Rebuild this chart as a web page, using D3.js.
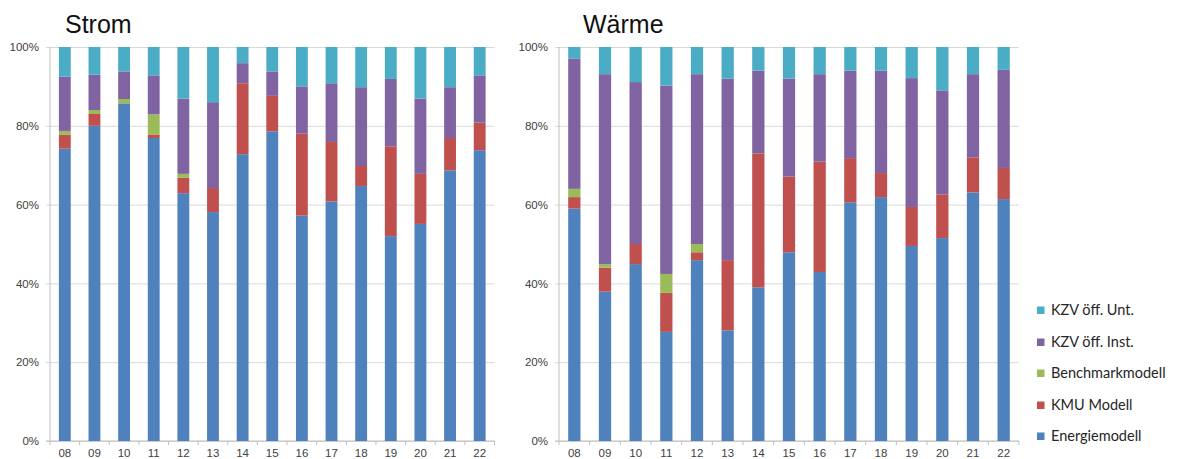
<!DOCTYPE html>
<html>
<head>
<meta charset="utf-8">
<script src="https://cdn.jsdelivr.net/npm/d3@7"></script>
<style>
  html, body { margin: 0; padding: 0; background: #fff; }
  svg { display: block; }
</style>
</head>
<body>
<svg id="chart" width="1177" height="459"></svg>
<script>
// Years (two-digit labels)
const years = ["08","09","10","11","12","13","14","15","16","17","18","19","20","21","22"];

// Series names, stacked bottom to top
const seriesNames = ["Energiemodell", "KMU Modell", "Benchmarkmodell", "KZV öff. Inst.", "KZV öff. Unt."];
const seriesColors = ["#4F81BD", "#C0504D", "#9BBB59", "#8064A2", "#4BACC6"];

// Strom: share per model in percent
const stromEnergie  = [74.2, 80.0, 85.7, 76.9, 62.9, 58.1, 72.8, 78.6, 57.2, 60.8, 64.7, 52.0, 55.1, 68.7, 73.8];
const stromKMU      = [ 3.5,  3.0,  0.0,  0.9,  3.9,  6.1, 18.0,  9.0, 20.8, 15.1,  5.1, 22.8, 12.7,  8.2,  7.0];
const stromBench    = [ 1.0,  1.0,  1.1,  5.1,  1.0,  0.0,  0.0,  0.0,  0.0,  0.0,  0.0,  0.0,  0.0,  0.0,  0.0];
const stromInst     = [13.8,  9.0,  7.0,  9.9, 19.1, 21.8,  5.1,  6.2, 12.0, 14.9, 20.0, 17.1, 19.1, 12.9, 12.0];
const stromUnt      = [ 7.5,  7.0,  6.2,  7.2, 13.1, 14.0,  4.1,  6.2, 10.0,  9.2, 10.2,  8.1, 13.1, 10.2,  7.2];

// Wärme: share per model in percent
const waermeEnergie = [59.0, 37.9, 44.9, 27.7, 45.9, 28.1, 39.0, 47.9, 42.9, 60.6, 61.9, 49.5, 51.5, 63.1, 61.4];
const waermeKMU     = [ 2.9,  6.1,  5.1,  9.9,  2.0, 17.8, 34.0, 19.2, 28.0, 11.2,  6.1,  9.9, 11.1,  8.9,  7.9];
const waermeBench   = [ 2.1,  0.9,  0.0,  4.8,  2.1,  0.0,  0.0,  0.0,  0.0,  0.0,  0.0,  0.0,  0.0,  0.0,  0.0];
const waermeInst    = [33.1, 48.2, 41.1, 47.8, 43.1, 46.1, 21.0, 24.9, 22.2, 22.2, 26.0, 32.7, 26.4, 21.1, 24.9];
const waermeUnt     = [ 2.9,  6.9,  8.9,  9.8,  6.9,  8.0,  6.0,  8.0,  6.9,  6.0,  6.0,  7.9, 11.0,  6.9,  5.8];

const yTicks = [0, 20, 40, 60, 80, 100];

const svg = d3.select("#chart");

function buildRows(cols) {
  return years.map((yr, i) => {
    const row = { year: yr };
    seriesNames.forEach((name, k) => { row[name] = cols[k][i]; });
    return row;
  });
}

function drawPanel(opts) {
  const { title, titleX, x0, x1, cols } = opts;
  const yTop = 47, yBottom = 441;
  const rows = buildRows(cols);
  const stack = d3.stack().keys(seriesNames);
  const layers = stack(rows);

  const x = d3.scaleBand().domain(years).range([x0, x1]).paddingInner(0.6).paddingOuter(0.3);
  const y = d3.scaleLinear().domain([0, 100]).range([yBottom, yTop]);
  const catStep = (x1 - x0) / years.length;

  const g = svg.append("g");

  // title
  g.append("text")
    .attr("x", titleX).attr("y", 33)
    .attr("font-family", "Liberation Sans, Arial, sans-serif")
    .attr("font-size", 25)
    .attr("fill", "#111")
    .text(title);

  // gridlines and y ticks
  const yAxis = d3.axisLeft(y).tickValues(yTicks).tickFormat(d => d + "%")
    .tickSize(-(x1 - x0)).tickSizeOuter(0).tickPadding(11);
  const ya = g.append("g").attr("transform", `translate(${x0},0)`).call(yAxis);
  ya.select(".domain").remove();
  ya.selectAll(".tick line").attr("stroke", "#d9d9d9").attr("x1", -4);
  ya.selectAll(".tick text")
    .attr("font-family", "Liberation Sans, Arial, sans-serif")
    .attr("font-size", 11.5).attr("fill", "#404040");

  // vertical axis line
  g.append("line").attr("x1", x0).attr("x2", x0).attr("y1", yTop).attr("y2", yBottom)
    .attr("stroke", "#bfbfbf");
  // baseline
  g.append("line").attr("x1", x0 - 4).attr("x2", x1).attr("y1", yBottom).attr("y2", yBottom)
    .attr("stroke", "#bfbfbf");

  // x tick marks between categories
  const edges = d3.range(years.length + 1).map(i => x0 + i * catStep);
  g.selectAll("line.xt").data(edges).join("line").attr("class", "xt")
    .attr("x1", d => d).attr("x2", d => d).attr("y1", yBottom).attr("y2", yBottom + 4)
    .attr("stroke", "#bfbfbf");

  // stacked bars
  g.selectAll("g.layer").data(layers).join("g").attr("class", "layer")
    .attr("fill", (d, i) => seriesColors[i])
    .selectAll("rect").data(d => d.filter(s => s[1] - s[0] > 0)).join("rect")
    .attr("x", d => x(d.data.year))
    .attr("width", x.bandwidth())
    .attr("y", d => y(d[1]))
    .attr("height", d => y(d[0]) - y(d[1]));

  // x labels
  g.selectAll("text.xl").data(years).join("text").attr("class", "xl")
    .attr("x", d => x(d) + x.bandwidth() / 2)
    .attr("y", 457)
    .attr("text-anchor", "middle")
    .attr("font-family", "Liberation Sans, Arial, sans-serif")
    .attr("font-size", 11.5).attr("fill", "#404040")
    .text(d => d);
}

drawPanel({
  title: "Strom", titleX: 65, x0: 50, x1: 494.5,
  cols: [stromEnergie, stromKMU, stromBench, stromInst, stromUnt]
});
drawPanel({
  title: "Wärme", titleX: 583, x0: 559, x1: 1019,
  cols: [waermeEnergie, waermeKMU, waermeBench, waermeInst, waermeUnt]
});

// legend, top entry = top of the stack
const legendOrder = [4, 3, 2, 1, 0];
const legendY = [310, 342, 373, 405, 436];
const lg = svg.append("g");
legendOrder.forEach((k, i) => {
  lg.append("rect").attr("x", 1037).attr("y", legendY[i] - 3.5).attr("width", 7.5).attr("height", 7.5)
    .attr("fill", seriesColors[k]);
  lg.append("text").attr("x", 1051).attr("y", legendY[i]).attr("dy", "0.36em")
    .attr("font-family", "Lato, 'Open Sans', sans-serif")
    .attr("font-size", 14.5).attr("fill", "#262626")
    .text(seriesNames[k]);
});
</script>
</body>
</html>
